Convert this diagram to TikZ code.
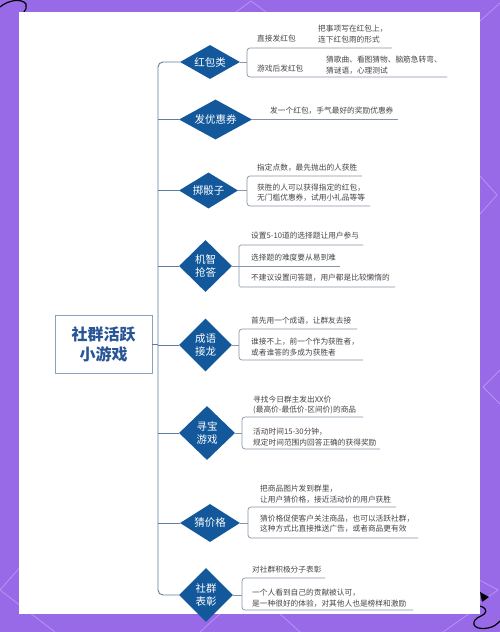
\documentclass[tikz,border=0pt]{standalone}
\usepackage{fontspec}
\setmainfont{Noto Sans CJK SC}
\usetikzlibrary{shapes.geometric}
\definecolor{bgp}{RGB}{152,106,232}
\definecolor{decp}{RGB}{182,148,242}
\definecolor{dblue}{RGB}{18,88,155}
\definecolor{trunkc}{RGB}{95,125,160}
\definecolor{brc}{RGB}{135,148,165}
\definecolor{txt}{RGB}{70,70,70}
\definecolor{ctext}{RGB}{40,85,150}
\definecolor{cbord}{RGB}{140,162,188}
\begin{document}
\begin{tikzpicture}[x=1pt,y=-1pt,
  dia/.style={shape=diamond, fill=dblue, text=white, inner sep=0pt, font=\fontsize{10.5}{13}\selectfont, align=center},
  desc/.style={anchor=west, inner sep=0pt, text=txt, font=\fontsize{7.7}{10.5}\selectfont, align=left},
  trunkline/.style={draw=trunkc, line width=0.9pt, rounded corners=5pt},
  brline/.style={draw=brc, line width=0.7pt, rounded corners=3pt},
  deco/.style={draw=decp, line width=0.8pt},
  squig/.style={draw=black, line width=1.2pt, line cap=round}]
\useasboundingbox (0,0) rectangle (500,632);
\fill[bgp] (0,0) rectangle (500,632);
% background decorations
\draw[deco] (236,12) -- (251,1) -- (266,12);
\draw[deco] (470,30) -- (500,3);
\draw[deco] (480,176) -- (497,195) -- (480,214);
\draw[deco] (500,370) -- (483,387) -- (500,404);
\draw[deco] (472,576) -- (498,590) -- (478,604);
\draw[deco] (443,632) -- (480,606);
\draw[deco] (200,632) -- (222,612);
\draw[deco] (278,612) -- (300,632);
\draw[deco] (22,565) -- (0,590) -- (55,632);
\draw[squig] (0,7) .. controls (8,0) and (22,-2) .. (26,4) .. controls (27,7) and (26,10) .. (24,12);
\fill[black] (480,592) -- (489,597) -- (482,602) -- cycle;
\draw[squig] (467,610) .. controls (480,600) and (493,611) .. (481,616) .. controls (470,620) and (471,631) .. (488,628) .. controls (494,627) and (497,624) .. (500,621);
% white panel
\fill[white] (19,12) rectangle (480,614);

% central node
\node[draw=cbord, line width=0.8pt, minimum width=97pt, minimum height=58pt, inner sep=0pt,
  text=ctext, font=\fontsize{16}{20}\selectfont\bfseries, align=center] (c) at (103.5,344) {社群活跃\\小游戏};

% diamonds
\node[dia, minimum width=60pt, minimum height=34pt, aspect=1.76] (d1) at (210,62) {红包类};
\node[dia, minimum width=73pt, minimum height=40pt, aspect=1.83] (d2) at (215.5,119.5) {发优惠券};
\node[dia, minimum width=59pt, minimum height=36pt, aspect=1.64] (d3) at (208.5,190.5) {掷骰子};
\node[dia, minimum width=53pt, minimum height=52pt, aspect=1.0] (d4) at (205.5,266) {机智\\抢答};
\node[dia, minimum width=53pt, minimum height=53pt, aspect=1.0] (d5) at (205.5,345) {成语\\接龙};
\node[dia, minimum width=56pt, minimum height=54pt, aspect=1.04] (d6) at (207,433) {寻宝\\游戏};
\node[dia, minimum width=60pt, minimum height=38pt, aspect=1.58] (d7) at (210,523) {猜价格};
\node[dia, minimum width=54pt, minimum height=54pt, aspect=1.0] (d8) at (206,595) {社群\\表彰};

% trunk
\coordinate (tr) at (158,0);
\draw[trunkline] (d1.west) -| (tr |- d8.west) -- (d8.west);
\foreach \d in {d2,d3,d4,d5,d6,d7} { \draw[trunkline] (\d.west) -- (tr |- \d.west); }
\draw[trunkline] (c.east) -- (tr |- c.east);

% group 1
\coordinate (b1t) at (247,48); \coordinate (b1te) at (392,48);
\coordinate (b1b) at (247,77); \coordinate (b1be) at (447,77);
\draw[brline] (d1.east) -- (b1t |- d1.east);
\draw[brline] (b1te) -- (b1t) -- (b1b) -- (b1be);
\node[desc] (t11) at (257,38.5) {直接发红包};
\node[desc] (t12) at (318,34) {把事项写在红包上，\\连下红包雨的形式};
\node[desc] (t13) at (257,69) {游戏后发红包};
\node[desc] (t14) at (326,65) {猜歌曲、看图猜物、脑筋急转弯、\\猜谜语，心理测试};

% group 2
\coordinate (b2e) at (398,119.5);
\draw[brline] (d2.east) -- (b2e);
\node[desc] (t21) at (270,111) {发一个红包，手气最好的奖励优惠券};

% group 3
\coordinate (b3t) at (247,176); \coordinate (b3te) at (362,176);
\coordinate (b3b) at (247,206); \coordinate (b3be) at (370,206);
\draw[brline] (d3.east) -- (b3t |- d3.east);
\draw[brline] (b3te) -- (b3t) -- (b3b) -- (b3be);
\node[desc] (t31) at (257,168) {指定点数，最先抛出的人获胜};
\node[desc] (t32) at (257,192.5) {获胜的人可以获得指定的红包，\\无门槛优惠券，试用小礼品等等};

% group 4
\coordinate (b4t) at (239,245); \coordinate (b4te) at (363,245);
\coordinate (b4m) at (340,266);
\coordinate (b4b) at (239,287); \coordinate (b4be) at (395,287);
\draw[brline] (d4.east) -- (b4m);
\draw[brline, rounded corners=1.5pt] (b4te) -- (b4t) -- (b4b) -- (b4be);
\node[desc] (t41) at (251,236) {设置5-10道的选择题让用户参与};
\node[desc] (t42) at (251,258) {选择题的难度要从易到难};
\node[desc] (t43) at (251,278) {不建议设置问答题，用户都是比较懒惰的};

% group 5
\coordinate (b5t) at (239,329); \coordinate (b5te) at (357,329);
\coordinate (b5b) at (239,360); \coordinate (b5be) at (363,360);
\draw[brline] (d5.east) -- (b5t |- d5.east);
\draw[brline] (b5te) -- (b5t) -- (b5b) -- (b5be);
\node[desc] (t51) at (251,321) {首先用一个成语，让群友去接};
\node[desc] (t52) at (251,347) {谁接不上，前一个作为获胜者，\\或者谁答的多成为获胜者};

% group 6
\coordinate (b6t) at (242,417); \coordinate (b6te) at (363,417);
\coordinate (b6b) at (242,449); \coordinate (b6be) at (380,449);
\draw[brline] (d6.east) -- (b6t |- d6.east);
\draw[brline] (b6te) -- (b6t) -- (b6b) -- (b6be);
\node[desc] (t61) at (253,405) {寻找今日群主发出XX价\\(最高价-最低价-区间价)的商品};
\node[desc] (t62) at (253,437) {活动时间15-30分钟，\\规定时间范围内回答正确的获得奖励};

% group 7
\coordinate (b7t) at (248,507); \coordinate (b7te) at (396,507);
\coordinate (b7b) at (248,538); \coordinate (b7be) at (418,538);
\draw[brline] (d7.east) -- (b7t |- d7.east);
\draw[brline] (b7te) -- (b7t) -- (b7b) -- (b7be);
\node[desc] (t71) at (260,494) {把商品图片发到群里，\\让用户猜价格，接近活动价的用户获胜};
\node[desc] (t72) at (260,523.5) {猜价格促使客户关注商品，也可以活跃社群，\\这种方式比直接推送广告，或者商品更有效};

% group 8
\coordinate (b8t) at (242,578); \coordinate (b8te) at (325,578);
\coordinate (b8b) at (242,610); \coordinate (b8be) at (413,610);
\draw[brline] (d8.east) -- (b8t |- d8.east);
\draw[brline] (b8te) -- (b8t) -- (b8b) -- (b8be);
\node[desc] (t81) at (252,570) {对社群积极分子表彰};
\node[desc] (t82) at (252,598) {一个人看到自己的贡献被认可，\\是一种很好的体验，对其他人也是榜样和激励};
\end{tikzpicture}
\end{document}
